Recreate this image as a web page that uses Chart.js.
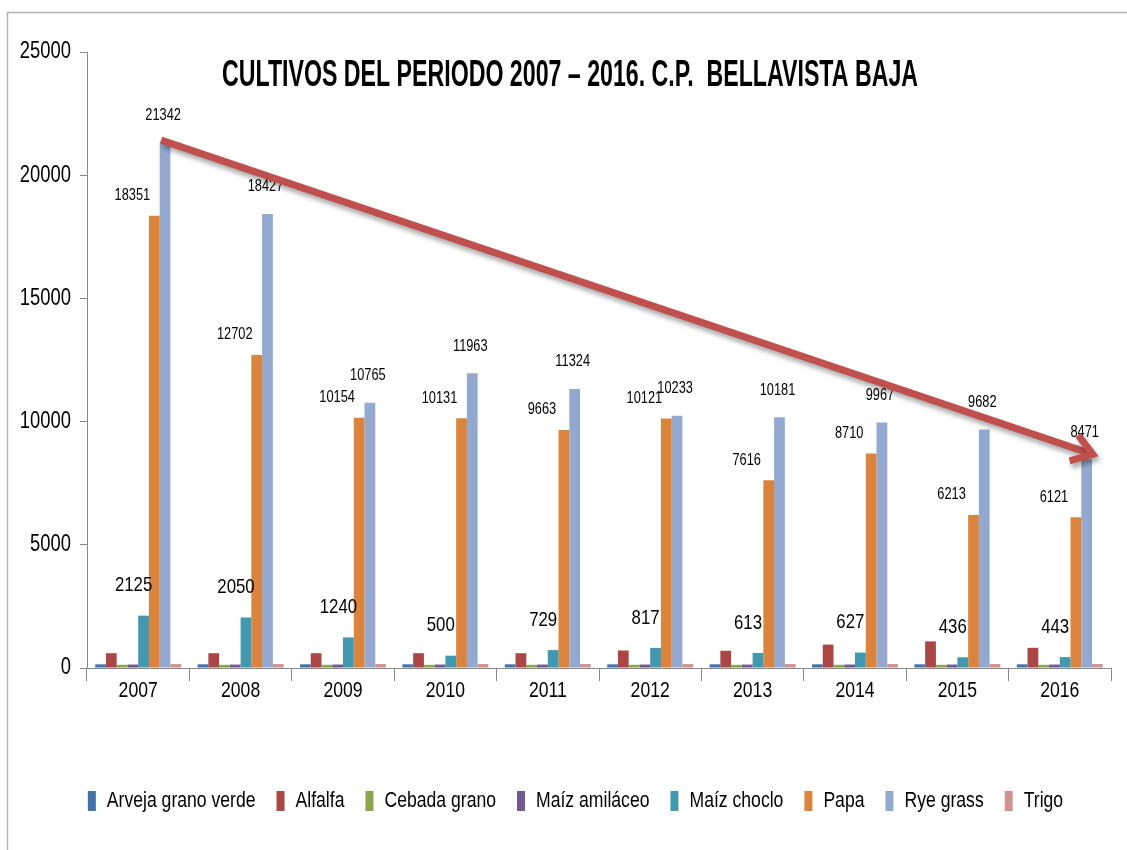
<!DOCTYPE html>
<html><head><meta charset="utf-8">
<script src="https://cdn.jsdelivr.net/npm/chart.js@4/dist/chart.umd.min.js"></script>
<style>html,body{margin:0;padding:0;background:#fff;} #wrap{position:relative;width:1127px;height:850px;}</style>
</head><body><div id="wrap"><canvas id="c" width="1127" height="850"></canvas></div>
<script>
const years = ['2007','2008','2009','2010','2011','2012','2013','2014','2015','2016'];
const arveja   = [150,150,150,150,150,150,150,150,150,150];
const alfalfa  = [600,600,600,600,600,710,700,950,1080,820];
const cebada   = [130,130,130,130,130,130,130,130,130,130];
const maizAmil = [140,140,140,140,140,140,140,140,140,140];
const maizChoclo = [2125,2050,1240,500,729,817,613,627,436,443];
const papa     = [18351,12702,10154,10131,9663,10121,7616,8710,6213,6121];
const ryeGrass = [21342,18427,10765,11963,11324,10233,10181,9967,9682,8471];
const trigo    = [160,160,160,160,160,160,160,160,160,160];
const yTicks = [0,5000,10000,15000,20000,25000];
const titleText = 'CULTIVOS DEL PERIODO 2007 \u2013 2016. C.P.  BELLAVISTA BAJA';

const FONT = "'Liberation Sans', Arial, sans-serif";
const SX = 0.8; // horizontal text condensing, like the reference's narrow lettering

const series = [
  {label:'Arveja grano verde', data:arveja, color:'#4572a7'},
  {label:'Alfalfa', data:alfalfa, color:'#aa4643'},
  {label:'Cebada grano', data:cebada, color:'#89a54e'},
  {label:'Maíz amiláceo', data:maizAmil, color:'#71588f'},
  {label:'Maíz choclo', data:maizChoclo, color:'#4198af'},
  {label:'Papa', data:papa, color:'#db843d'},
  {label:'Rye grass', data:ryeGrass, color:'#93a9cf'},
  {label:'Trigo', data:trigo, color:'#d19392'}
];

const labelStyles = {
  4: {size:21, dx:-10, dy:-30},
  5: {size:16, dx:-22, dy:-20},
  6: {size:16, dx:-2, dy:-27}
};

const canvas = document.getElementById('c');
const ctx0 = canvas.getContext('2d');
const origFill = ctx0.fillText.bind(ctx0);
const origMeasure = ctx0.measureText.bind(ctx0);
ctx0.fillText = function(t, x, y, mw){
  this.save(); this.translate(x, y); this.scale(SX, 1);
  if (mw !== undefined) origFill(t, 0, 0, mw / SX); else origFill(t, 0, 0);
  this.restore();
};
ctx0.measureText = function(t){
  const m = origMeasure(t);
  return {width:m.width*SX,
    actualBoundingBoxAscent:m.actualBoundingBoxAscent,
    actualBoundingBoxDescent:m.actualBoundingBoxDescent,
    actualBoundingBoxLeft:m.actualBoundingBoxLeft*SX,
    actualBoundingBoxRight:m.actualBoundingBoxRight*SX};
};

const overlay = {
  id:'overlay',
  afterLayout(chart){
    // centre the legend under the plot area, as in the reference
    if (chart.legend) { chart.legend.left = 40; }
  },
  beforeDraw(chart){
    const ctx = chart.ctx;
    ctx.save();
    ctx.fillStyle = '#fff';
    ctx.fillRect(0,0,chart.width,chart.height);
    ctx.strokeStyle = '#b4b4b4';
    ctx.lineWidth = 1.5;
    ctx.strokeRect(7.5,12.5,chart.width,chart.height);
    ctx.restore();
  },
  afterDatasetsDraw(chart){
    const ctx = chart.ctx;
    ctx.save();
    ctx.fillStyle = '#000';
    ctx.textAlign = 'center';
    ctx.textBaseline = 'middle';
    Object.keys(labelStyles).forEach(k => {
      const i = +k, st = labelStyles[k];
      const meta = chart.getDatasetMeta(i);
      ctx.font = st.size + 'px ' + FONT;
      meta.data.forEach((el, j) => {
        ctx.fillText(String(chart.data.datasets[i].data[j]), el.x + st.dx, el.y + st.dy);
      });
    });
    const rye = chart.getDatasetMeta(6).data;
    const a = rye[0], b = rye[rye.length-1];
    const x1 = a.x - 4, y1 = a.y - 2, x2 = b.x + 6, y2 = b.y - 5;
    const ang = Math.atan2(y2-y1, x2-x1);
    ctx.shadowColor = 'rgba(0,0,0,0.35)';
    ctx.shadowBlur = 5;
    ctx.shadowOffsetX = 2;
    ctx.shadowOffsetY = 4;
    ctx.strokeStyle = '#c0504d';
    ctx.lineWidth = 7;
    ctx.lineCap = 'butt';
    ctx.beginPath();
    ctx.moveTo(x1,y1);
    ctx.lineTo(x2 - 6*Math.cos(ang), y2 - 6*Math.sin(ang));
    ctx.stroke();
    ctx.lineJoin = 'miter';
    ctx.beginPath();
    const L = 24, w = 0.6;
    ctx.moveTo(x2 - L*Math.cos(ang - w), y2 - L*Math.sin(ang - w));
    ctx.lineTo(x2, y2);
    ctx.lineTo(x2 - L*Math.cos(ang + w), y2 - L*Math.sin(ang + w));
    ctx.stroke();
    ctx.restore();
  },
  afterDraw(chart){
    const ctx = chart.ctx;
    ctx.save();
    ctx.fillStyle = '#000';
    ctx.font = 'bold 36px ' + FONT;
    ctx.textAlign = 'center';
    ctx.textBaseline = 'middle';
    const k = 696 / ctx.measureText(titleText).width;
    ctx.translate(570, 76);
    ctx.scale(k, 1);
    ctx.fillText(titleText, 0, 0);
    ctx.restore();
  }
};

new Chart(canvas, {
  type:'bar',
  data:{
    labels: years,
    datasets: series.map(s => ({label:s.label, data:s.data, backgroundColor:s.color, borderWidth:0,
      categoryPercentage:0.84, barPercentage:1.0}))
  },
  options:{
    responsive:false, animation:false, devicePixelRatio:1,
    layout:{padding:{top:52, right:16, bottom:28, left:0}},
    plugins:{
      legend:{position:'bottom', labels:{font:{family:FONT, size:22}, color:'#000', boxWidth:8, boxHeight:20, padding:21}},
      tooltip:{enabled:false}
    },
    scales:{
      x:{
        grid:{display:true, drawOnChartArea:false, offset:true, color:'#888', tickLength:13},
        border:{color:'#888'},
        ticks:{font:{family:FONT, size:22}, color:'#000', padding:-3},
        afterFit(s){ s.height = 101; }
      },
      y:{
        min:0, max:25000,
        grid:{display:true, drawOnChartArea:false, color:'#888', tickLength:7},
        border:{color:'#888'},
        afterBuildTicks(s){ s.ticks = yTicks.map(v => ({value:v})); },
        ticks:{font:{family:FONT, size:23}, color:'#000', padding:9, callback:v => String(v)},
        afterFit(s){ s.width = 87; }
      }
    }
  },
  plugins:[overlay]
});
</script></body></html>
